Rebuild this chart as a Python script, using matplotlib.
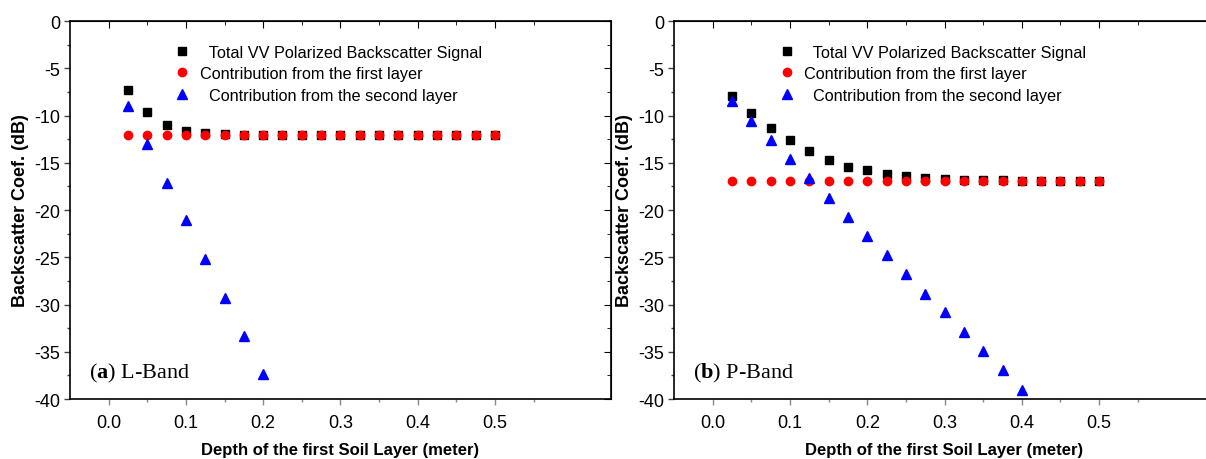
import matplotlib
matplotlib.use("Agg")
import matplotlib.pyplot as plt
import numpy as np

# depth of the first soil layer (m)
depth = [0.025, 0.05, 0.075, 0.1, 0.125, 0.15, 0.175, 0.2, 0.225, 0.25,
         0.275, 0.3, 0.325, 0.35, 0.375, 0.4, 0.425, 0.45, 0.475, 0.5]

# (a) L-Band
l_total = [-7.3, -9.6, -11.0, -11.6, -11.85, -12.0, -12.05, -12.1, -12.1, -12.1,
           -12.1, -12.1, -12.1, -12.1, -12.1, -12.1, -12.1, -12.1, -12.1, -12.1]
l_first = [-12.1] * 20
l_second = [-9.0, -13.0, -17.1, -21.1, -25.2, -29.3, -33.3, -37.4]

# (b) P-Band
p_total = [-7.95, -9.7, -11.3, -12.6, -13.8, -14.7, -15.4, -15.8, -16.2, -16.4,
           -16.6, -16.7, -16.8, -16.85, -16.85, -16.9, -16.9, -16.9, -16.9, -16.9]
p_first = [-16.9] * 20
p_second = [-8.5, -10.6, -12.6, -14.6, -16.6, -18.7, -20.7, -22.7, -24.8, -26.8,
            -28.9, -30.8, -32.9, -34.9, -36.9, -39.0]

labels = ["  Total VV Polarized Backscatter Signal",
          "Contribution from the first layer",
          "  Contribution from the second layer"]

plt.rcParams['font.family'] = ['Liberation Sans', 'DejaVu Sans']
plt.rcParams['axes.unicode_minus'] = False
plt.rcParams['mathtext.fontset'] = 'custom'
plt.rcParams['mathtext.bf'] = 'Liberation Serif:bold'

fig = plt.figure(figsize=(12.06, 4.6), dpi=100)
ax1 = fig.add_axes([0.058, 0.1304, 0.4486, 0.8217])
ax2 = fig.add_axes([0.5589, 0.1304, 0.4486, 0.8217])


def draw(ax, total, first, second, tag, band):
    ax.plot(depth, total, 's', color='black', ms=5.5, label=labels[0])
    ax.plot(depth, first, 'o', color='red', ms=6, label=labels[1])
    ax.plot(depth[:len(second)], second, '^', color='blue', ms=6.5, label=labels[2])
    ax.set_xlim(-0.05, 0.65)
    ax.set_ylim(-40, 0)
    ax.set_xticks([0.0, 0.1, 0.2, 0.3, 0.4, 0.5])
    ax.set_xticks(np.arange(0.05, 0.65, 0.1), minor=True)
    ax.set_yticks(range(-40, 1, 5))
    ax.set_yticks(np.arange(-37.5, 0, 5), minor=True)
    ax.tick_params(axis='both', which='major', labelsize=13, length=4, width=1)
    ax.tick_params(axis='both', which='minor', length=2, width=1)
    ax.tick_params(axis='x', which='both', direction='out', color='#888888', pad=7)
    ax.tick_params(axis='y', which='both', direction='out', color='#444444', pad=3)
    for s in ax.spines.values():
        s.set_linewidth(1.2)
    # ticks on top and right point inward
    top = ax.secondary_xaxis('top')
    top.set_xticks([0.0, 0.1, 0.2, 0.3, 0.4, 0.5])
    top.set_xticks(np.arange(0.05, 0.65, 0.1), minor=True)
    top.tick_params(which='both', direction='in', labeltop=False)
    top.tick_params(which='major', length=5)
    top.tick_params(which='minor', length=3)
    right = ax.secondary_yaxis('right')
    right.set_yticks(range(-40, 1, 5))
    right.set_yticks(np.arange(-37.5, 0, 5), minor=True)
    right.tick_params(which='both', direction='in', labelright=False)
    right.tick_params(which='major', length=5)
    right.tick_params(which='minor', length=3)
    ax.set_xlabel("Depth of the first Soil Layer (meter)", fontsize=12,
                  fontweight='bold', labelpad=8)
    ax.set_ylabel("Backscatter Coef. (dB)", fontsize=13, fontweight='bold', labelpad=4)
    ax.legend(loc='upper left', bbox_to_anchor=(0.178, 0.955), frameon=False,
              fontsize=11.7, handletextpad=0.45, labelspacing=0.4,
              handlelength=1.2, borderaxespad=0)
    ax.text(0.035, 0.07, r"($\mathbf{" + tag + r"}$) " + band, transform=ax.transAxes,
            fontsize=16, family='Liberation Serif', ha='left', va='center')


draw(ax1, l_total, l_first, l_second, "a", "L-Band")
draw(ax2, p_total, p_first, p_second, "b", "P-Band")

fig.savefig("out.png", dpi=100)
